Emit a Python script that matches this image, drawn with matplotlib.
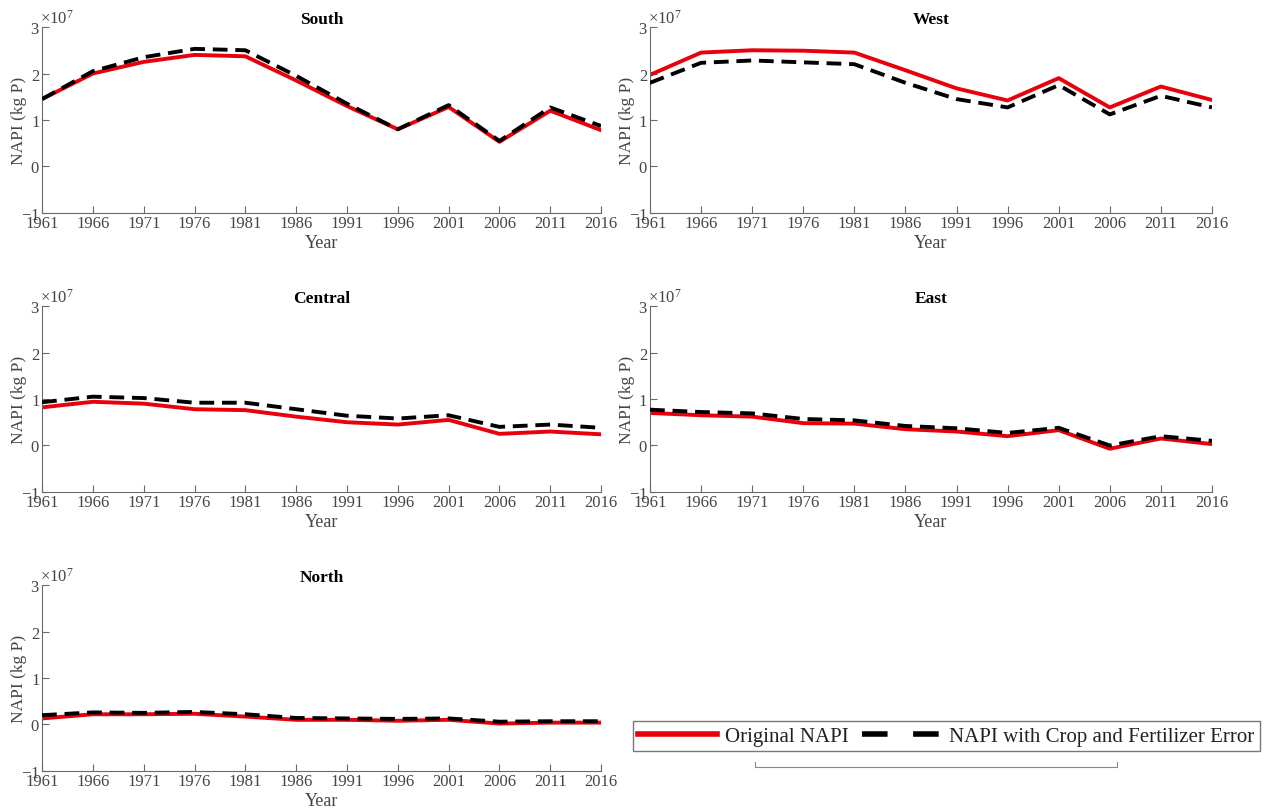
import numpy as np
import matplotlib
matplotlib.use("Agg")
import matplotlib.pyplot as plt
from matplotlib.lines import Line2D
from matplotlib.ticker import ScalarFormatter

plt.rcParams['font.family'] = ['Liberation Serif', 'DejaVu Serif']
plt.rcParams['mathtext.fontset'] = 'custom'
plt.rcParams['mathtext.rm'] = 'Liberation Serif'
plt.rcParams['axes.unicode_minus'] = False

years = [1961, 1966, 1971, 1976, 1981, 1986, 1991, 1996, 2001, 2006, 2011, 2016]

# NAPI in units of 1e7 kg P
south_orig = [1.45, 2.00, 2.25, 2.40, 2.37, 1.85, 1.30, 0.80, 1.28, 0.53, 1.20, 0.78]
south_err = [1.45, 2.05, 2.35, 2.53, 2.50, 1.95, 1.35, 0.80, 1.32, 0.55, 1.27, 0.87]
west_orig = [1.97, 2.45, 2.50, 2.49, 2.45, 2.07, 1.68, 1.42, 1.90, 1.27, 1.72, 1.43]
west_err = [1.80, 2.23, 2.28, 2.24, 2.20, 1.80, 1.45, 1.27, 1.75, 1.12, 1.52, 1.27]
central_orig = [0.82, 0.94, 0.90, 0.78, 0.76, 0.62, 0.50, 0.45, 0.55, 0.25, 0.30, 0.24]
central_err = [0.93, 1.05, 1.02, 0.92, 0.92, 0.78, 0.64, 0.58, 0.65, 0.40, 0.45, 0.38]
east_orig = [0.70, 0.65, 0.62, 0.48, 0.47, 0.35, 0.30, 0.20, 0.33, -0.07, 0.15, 0.03]
east_err = [0.77, 0.72, 0.69, 0.57, 0.54, 0.42, 0.37, 0.27, 0.38, 0.00, 0.20, 0.10]
north_orig = [0.13, 0.22, 0.22, 0.23, 0.17, 0.10, 0.10, 0.08, 0.10, 0.02, 0.04, 0.04]
north_err = [0.20, 0.26, 0.25, 0.27, 0.22, 0.14, 0.13, 0.12, 0.13, 0.06, 0.07, 0.07]

regions = ['South', 'West', 'Central', 'East', 'North']
orig = [south_orig, west_orig, central_orig, east_orig, north_orig]
err = [south_err, west_err, central_err, east_err, north_err]

# axes boxes [left, bottom, width, height] in figure fractions
boxes = [
    [0.0331, 0.7365, 0.4402, 0.229],
    [0.5118, 0.7365, 0.4425, 0.229],
    [0.0331, 0.3929, 0.4402, 0.229],
    [0.5118, 0.3929, 0.4425, 0.229],
    [0.0331, 0.0493, 0.4402, 0.229],
]

gray = '#454545'
red = '#e8000b'
fig = plt.figure(figsize=(12.7, 8.12), dpi=100)

for name, o, e, box in zip(regions, orig, err, boxes):
    ax = fig.add_axes(box)
    ax.plot(years, np.array(o) * 1e7, color=red, lw=2.8, zorder=2)
    ax.plot(years, np.array(e) * 1e7, color='black', lw=2.8, dashes=(3.8, 2.0), zorder=3)
    ax.set_xlim(1961, 2016)
    ax.set_ylim(-1e7, 3e7)
    ax.set_xticks(years)
    ax.set_yticks([-1e7, 0, 1e7, 2e7, 3e7])
    fmt = ScalarFormatter(useMathText=True)
    fmt.set_powerlimits((0, 0))
    ax.yaxis.set_major_formatter(fmt)
    ax.yaxis.get_offset_text().set_fontsize(12)
    ax.yaxis.get_offset_text().set_color(gray)
    ax.yaxis.get_offset_text().set_x(-0.003)
    for side in ['top', 'right']:
        ax.spines[side].set_visible(False)
    for side in ['left', 'bottom']:
        ax.spines[side].set_color('#6a6a6a')
        ax.spines[side].set_linewidth(0.8)
    ax.tick_params(direction='in', length=5, width=0.8, color='#6a6a6a',
                   labelsize=12, labelcolor=gray, pad=1.5)
    ax.set_xlabel('Year', fontsize=13, color=gray, labelpad=2)
    ax.set_ylabel('NAPI (kg P)', fontsize=12.5, color=gray, labelpad=-4)
    ax.set_title(name, fontsize=12.5, fontweight='bold', color='black', pad=2)

handles = [
    Line2D([], [], color=red, lw=4),
    Line2D([], [], color='black', lw=4, dashes=(4.6, 4.6)),
]
fig.legend(handles, ['Original NAPI', 'NAPI with Crop and Fertilizer Error'],
           loc='center', bbox_to_anchor=(0.745, 0.092), ncol=2, fontsize=15,
           frameon=True, fancybox=False, edgecolor='#555555', handlelength=3.8,
           handletextpad=0.4, columnspacing=0.6, borderpad=0.25, labelcolor='#222222')

# leftover bracket beneath the legend
y0 = 1 - 768 / 812
fig.add_artist(Line2D([755 / 1270, 755 / 1270, 1117 / 1270, 1117 / 1270],
                      [y0 + 0.006, y0, y0, y0 + 0.006], color='#888888', lw=0.8))

fig.savefig('out.png', dpi=100, facecolor='white')
